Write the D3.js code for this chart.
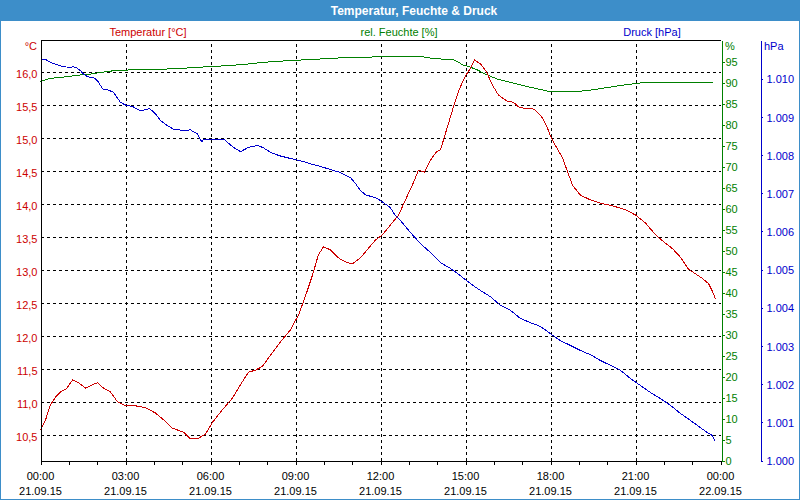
<!DOCTYPE html>
<html><head><meta charset="utf-8">
<script src="https://cdn.jsdelivr.net/npm/d3@7"></script>
<style>
body{margin:0;background:#fff}
svg{display:block;font-family:"Liberation Sans",Arial,sans-serif}
</style>
</head><body>
<svg id="c" width="800" height="500"></svg>
<script>
// ---- data (time in hours since 21.09.15 00:00) ----
const tempTimes = [0.00,0.18,0.35,0.53,0.71,0.92,1.13,1.34,1.59,1.84,2.01,2.22,2.47,2.72,3.00,3.35,3.71,4.06,4.34,4.66,5.05,5.29,5.54,5.82,6.07,6.42,6.78,7.06,7.34,7.59,7.84,8.12,8.47,8.82,9.11,9.35,9.60,9.81,9.99,10.24,10.52,10.76,11.01,11.29,11.58,11.82,12.07,12.35,12.64,12.88,13.13,13.34,13.55,13.76,13.98,14.12,14.33,14.54,14.75,14.96,15.18,15.32,15.53,15.74,15.95,16.16,16.45,16.69,16.87,17.05,17.29,17.47,17.72,17.89,18.00,18.18,18.42,18.78,19.06,19.41,19.76,20.19,20.65,21.00,21.35,21.71,21.95,22.31,22.59,22.87,23.12,23.36,23.58,23.72,23.82];
const tempValues = [10.58,10.74,10.96,11.08,11.16,11.21,11.34,11.30,11.22,11.27,11.30,11.22,11.16,11.01,10.95,10.95,10.92,10.84,10.74,10.61,10.55,10.45,10.45,10.52,10.70,10.89,11.07,11.27,11.46,11.49,11.55,11.72,11.92,12.10,12.33,12.61,12.93,13.24,13.36,13.31,13.19,13.13,13.10,13.19,13.34,13.46,13.54,13.69,13.84,14.07,14.30,14.52,14.49,14.67,14.80,14.83,15.13,15.43,15.71,15.92,16.07,16.19,16.13,16.01,15.81,15.66,15.57,15.55,15.48,15.46,15.46,15.43,15.31,15.16,15.04,14.89,14.71,14.29,14.14,14.07,14.02,13.98,13.92,13.84,13.72,13.54,13.45,13.33,13.20,13.02,12.95,12.88,12.80,12.68,12.57];

const humTimes = [0.00,0.35,0.71,1.06,1.41,1.76,2.12,2.58,3.18,4.13,5.05,6.00,6.60,7.31,7.87,8.47,8.93,9.25,9.60,10.94,12.00,13.52,13.76,14.12,14.54,14.72,14.89,15.11,15.42,15.64,15.88,16.13,16.48,16.84,17.19,17.54,18.00,18.88,19.41,20.01,20.58,21.07,21.18,23.75];
const humValues = [90.2,91.0,91.2,91.5,91.8,92.0,92.4,92.8,93.0,93.1,93.4,93.8,94.0,94.4,94.8,95.1,95.2,95.4,95.5,96.0,96.1,96.1,95.8,95.6,95.5,95.0,94.2,93.8,93.0,92.2,91.5,90.8,90.2,89.6,89.0,88.5,87.8,87.8,88.2,88.8,89.4,89.8,89.9,89.9];

const pressTimes = [0.00,0.21,0.35,0.53,0.71,0.81,1.06,1.16,1.24,1.41,1.52,1.66,1.87,2.01,2.12,2.19,2.40,2.58,2.82,3.00,3.25,3.53,3.71,3.85,4.06,4.24,4.48,4.69,5.05,5.29,5.54,5.65,5.72,5.75,6.25,6.46,6.81,7.06,7.34,7.66,7.87,8.12,8.44,8.82,9.18,9.53,9.88,10.24,10.59,10.94,11.12,11.29,11.47,11.82,12.00,12.35,12.53,12.71,13.06,13.41,13.76,14.12,14.47,14.82,15.18,15.53,15.88,16.24,16.59,16.94,17.29,17.65,18.00,18.35,18.71,19.06,19.41,19.76,20.12,20.47,20.82,21.18,21.53,21.88,22.24,22.59,22.94,23.29,23.54,23.72,23.79];
const pressValues = [1010.49,1010.49,1010.43,1010.38,1010.34,1010.31,1010.30,1010.31,1010.30,1010.21,1010.12,1010.05,1010.03,1009.95,1009.82,1009.73,1009.70,1009.64,1009.38,1009.31,1009.27,1009.16,1009.19,1009.22,1009.08,1008.90,1008.77,1008.68,1008.64,1008.66,1008.55,1008.38,1008.35,1008.42,1008.40,1008.42,1008.20,1008.09,1008.20,1008.25,1008.19,1008.07,1007.98,1007.91,1007.85,1007.77,1007.70,1007.62,1007.54,1007.41,1007.25,1007.07,1006.96,1006.88,1006.81,1006.62,1006.41,1006.28,1005.97,1005.68,1005.45,1005.18,1005.03,1004.84,1004.63,1004.45,1004.29,1004.06,1003.93,1003.72,1003.61,1003.51,1003.32,1003.14,1003.01,1002.88,1002.77,1002.62,1002.49,1002.36,1002.15,1001.96,1001.78,1001.62,1001.44,1001.23,1001.05,1000.86,1000.73,1000.65,1000.52];

const labelHours = [0,3,6,9,12,15,18,21,24];
const timeLabels = ["00:00","03:00","06:00","09:00","12:00","15:00","18:00","21:00","00:00"];
const dateLabels = ["21.09.15","21.09.15","21.09.15","21.09.15","21.09.15","21.09.15","21.09.15","21.09.15","22.09.15"];
const tempTicks = [10.5,11.0,11.5,12.0,12.5,13.0,13.5,14.0,14.5,15.0,15.5,16.0];
const humTicks = [0,5,10,15,20,25,30,35,40,45,50,55,60,65,70,75,80,85,90,95];
const pressTicks = [1000,1001,1002,1003,1004,1005,1006,1007,1008,1009,1010];
const seriesNames = ["Temperatur [°C]","rel. Feuchte [%]","Druck [hPa]"];
const unitNames = ["°C","%","hPa"];
const titleText = "Temperatur, Feuchte & Druck";

// ---- drawing ----
const RED="#cc0000", GREEN="#008000", BLUE="#0000cc";
const svg = d3.select("#c");
const L=40.5, R=720.5, T=40.5, B=460.5;
const x = d3.scaleLinear().domain([0,24]).range([L,R]);
const yT = d3.scaleLinear().domain([10.1212,16.4848]).range([B,T]);
const yH = d3.scaleLinear().domain([0,100]).range([B,T]);
const yP = d3.scaleLinear().domain([1000,1011]).range([B,T]);
const de = d3.formatLocale({decimal:",",thousands:".",grouping:[3],currency:["","€"]});
const fmtT = de.format(".1f"), fmtP = de.format(",d");

svg.append("rect").attr("width",800).attr("height",500).attr("fill","#fff");
svg.append("rect").attr("width",800).attr("height",21).attr("fill","#3d8ec9");
svg.append("rect").attr("x",0.5).attr("y",0.5).attr("width",799).attr("height",499)
  .attr("fill","none").attr("stroke","#3d8ec9").attr("stroke-width",1);
svg.append("text").attr("x",414).attr("y",15).attr("text-anchor","middle")
  .attr("fill","#fff").attr("font-weight","bold").attr("font-size",12).text(titleText);

// gridlines
const gh = svg.append("g").attr("transform",`translate(${L},0)`)
  .call(d3.axisLeft(yT).tickValues(tempTicks).tickSize(-(R-L)).tickFormat(""));
gh.select(".domain").remove();
const gv = svg.append("g").attr("transform",`translate(0,${B})`)
  .call(d3.axisBottom(x).tickValues([3,6,9,12,15,18,21]).tickSize(-(B-T)).tickFormat(""));
gv.select(".domain").remove();
svg.selectAll("g").selectAll(".tick line").attr("stroke","#000").attr("stroke-dasharray","3,3")
  .attr("shape-rendering","crispEdges");

// data lines
function drawLine(times, values, ys, color){
  const data = times.map((t,i)=>[t,values[i]]);
  svg.append("path").datum(data)
    .attr("d", d3.line().x(d=>x(d[0])).y(d=>ys(d[1])))
    .attr("fill","none").attr("stroke",color).attr("stroke-width",1)
    .attr("shape-rendering","crispEdges");
}
drawLine(humTimes, humValues, yH, GREEN);
drawLine(pressTimes, pressValues, yP, BLUE);
drawLine(tempTimes, tempValues, yT, RED);

// frame top
svg.append("line").attr("x1",L).attr("x2",R).attr("y1",T).attr("y2",T)
  .attr("stroke","#000").attr("shape-rendering","crispEdges");

// left axis
const ax = svg.append("g").attr("transform",`translate(${L},0)`)
  .call(d3.axisLeft(yT).tickValues(tempTicks).tickSize(0).tickSizeOuter(0).tickPadding(3).tickFormat(fmtT));
ax.select(".domain").attr("stroke","#000").attr("shape-rendering","crispEdges");
ax.selectAll("text").attr("fill",RED).attr("font-size",11).attr("font-family",null).attr("dy","0.42em");

// bottom axis
const bx = svg.append("g").attr("transform",`translate(0,${B})`)
  .call(d3.axisBottom(x).tickValues(d3.range(0,25)).tickSize(4).tickSizeOuter(0).tickFormat(""));
bx.selectAll("path,line").attr("stroke","#000").attr("shape-rendering","crispEdges");
const lbl = svg.append("g").attr("font-size",11).attr("fill","#000").attr("text-anchor","middle");
labelHours.forEach((h,i)=>{
  lbl.append("text").attr("x",x(h)).attr("y",479.5).text(timeLabels[i]);
  lbl.append("text").attr("x",x(h)).attr("y",494.5).text(dateLabels[i]);
});

// humidity axis
const hx = svg.append("g").attr("transform","translate(721.5,0)")
  .call(d3.axisRight(yH).tickValues(humTicks).tickSize(3).tickSizeOuter(0).tickPadding(1).tickFormat(d3.format("d")));
hx.selectAll("path,line").attr("stroke",GREEN).attr("shape-rendering","crispEdges");
hx.selectAll("text").attr("fill",GREEN).attr("font-size",11).attr("font-family",null).attr("dy","0.38em");

// pressure axis
const px = svg.append("g").attr("transform","translate(760.5,0)")
  .call(d3.axisRight(yP).tickValues(pressTicks).tickSize(2).tickSizeOuter(0).tickPadding(4).tickFormat(fmtP));
px.selectAll("path,line").attr("stroke",BLUE).attr("shape-rendering","crispEdges");
px.selectAll("text").attr("fill",BLUE).attr("font-size",11).attr("font-family",null).attr("dy","0.38em");

// units
svg.append("text").attr("x",37).attr("y",50).attr("text-anchor","end").attr("fill",RED).attr("font-size",11).text(unitNames[0]);
svg.append("text").attr("x",725).attr("y",50).attr("fill",GREEN).attr("font-size",11).text(unitNames[1]);
svg.append("text").attr("x",764).attr("y",50).attr("fill",BLUE).attr("font-size",11).text(unitNames[2]);

// series labels
const sCols=[RED,GREEN,BLUE], sX=[148,399,652];
seriesNames.forEach((s,i)=>{
  svg.append("text").attr("x",sX[i]).attr("y",36).attr("text-anchor","middle")
    .attr("fill",sCols[i]).attr("font-size",11).text(s);
});
</script>
</body></html>
